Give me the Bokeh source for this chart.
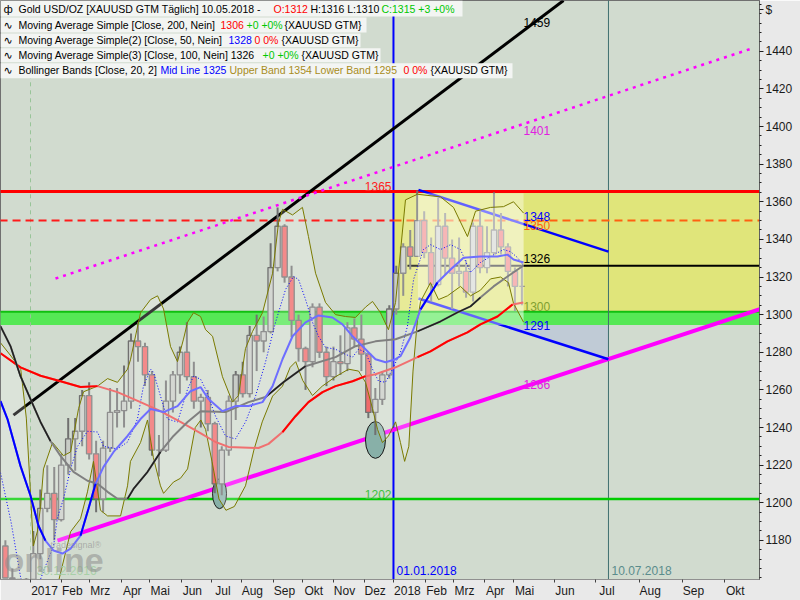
from bokeh.plotting import figure
from bokeh.models import Range1d, FixedTicker
from bokeh.core.properties import value
from bokeh.embed import file_html
from bokeh.resources import INLINE

# x = trading-day slot: 0 = 02.01.2017, 260 = 01.01.2018, 353 = 10.05.2018,
# after the last bar the axis runs on calendar days (10.07.2018 = 414)
X0, X1 = -21.5, 522.2
Y0, Y1 = 1159.2, 1467.0

month_labels = ["2017", "Feb", "Mrz", "Apr", "Mai", "Jun", "Jul", "Aug", "Sep", "Okt", "Nov", "Dez",
                "2018", "Feb", "Mrz", "Apr", "Mai", "Jun", "Jul", "Aug", "Sep", "Okt"]
month_slots = [0, 22, 42, 65, 85, 108, 130, 151, 174, 195, 217, 239,
               260, 283, 303, 325, 346, 375, 405, 436, 467, 497]
price_ticks = [1180, 1200, 1220, 1240, 1260, 1280, 1300, 1320, 1340, 1360, 1380, 1400, 1420, 1440]

# weekly candles, Monday slot
wk_slot = list(range(-20, 351, 5))
wk_open = [1177, 1160, 1133, 1133,
           1152, 1173, 1197, 1205, 1191, 1220, 1234, 1238, 1257, 1226, 1202, 1229, 1248,
           1249, 1254, 1286, 1283, 1268, 1228, 1228, 1254, 1268, 1280, 1267, 1254, 1256,
           1242, 1210, 1228, 1254, 1268, 1258, 1289, 1286, 1291, 1325, 1347, 1320, 1297,
           1282, 1275, 1304, 1280, 1267, 1275, 1274, 1293, 1287, 1279, 1248, 1255, 1268,
           1303, 1322, 1336, 1331, 1350, 1333, 1316, 1347, 1330, 1322, 1323, 1312, 1347,
           1325, 1333, 1345, 1336, 1323, 1315]
wk_high = [1180, 1165, 1140, 1160,
           1185, 1207, 1220, 1219, 1226, 1245, 1245, 1260, 1264, 1233, 1233, 1261, 1261,
           1273, 1290, 1296, 1285, 1270, 1236, 1265, 1270, 1283, 1296, 1275, 1258, 1260,
           1243, 1230, 1257, 1270, 1275, 1294, 1300, 1299, 1338, 1357, 1348, 1326, 1300,
           1283, 1306, 1306, 1283, 1283, 1289, 1296, 1298, 1300, 1280, 1261, 1270, 1305,
           1326, 1338, 1345, 1366, 1355, 1341, 1362, 1354, 1340, 1341, 1329, 1349, 1356,
           1347, 1365, 1354, 1338, 1325, 1326]
wk_low = [1160, 1123, 1125, 1130,
          1147, 1170, 1195, 1180, 1190, 1215, 1217, 1230, 1223, 1195, 1195, 1227, 1240,
          1240, 1250, 1275, 1262, 1225, 1214, 1227, 1248, 1258, 1265, 1250, 1240, 1238,
          1205, 1204, 1225, 1244, 1256, 1256, 1270, 1280, 1290, 1323, 1317, 1288, 1275,
          1260, 1272, 1277, 1262, 1265, 1268, 1270, 1283, 1270, 1245, 1236, 1252, 1266,
          1300, 1310, 1324, 1331, 1330, 1307, 1315, 1321, 1303, 1315, 1309, 1307, 1322,
          1322, 1332, 1332, 1315, 1302, 1305]
wk_close = [1160, 1133, 1133, 1152,
            1173, 1197, 1205, 1191, 1220, 1234, 1238, 1257, 1226, 1202, 1229, 1248, 1249,
            1254, 1286, 1283, 1268, 1228, 1228, 1254, 1268, 1280, 1267, 1254, 1256, 1242,
            1210, 1228, 1254, 1268, 1258, 1289, 1286, 1291, 1325, 1347, 1320, 1297, 1282,
            1275, 1304, 1280, 1267, 1275, 1274, 1293, 1287, 1279, 1248, 1255, 1268, 1303,
            1322, 1336, 1331, 1350, 1333, 1316, 1347, 1330, 1322, 1323, 1312, 1347, 1325,
            1333, 1345, 1336, 1323, 1315, 1315]

# moving averages
ma200_x = [-21.5, -7.2, 7.2, 21.5, 35.8, 48, 62.3, 78.8, 93.1, 107.4, 121.7, 132.5, 141.8, 163.3,
           170.5, 180.5, 189.8, 199.1, 209.2, 218.5, 230.7, 240, 247.1, 261.5, 277.2, 286.5,
           298.7, 313, 322.3, 334.5, 345.3, 353]
ma200 = [1279.5, 1272, 1267.5, 1264.6, 1261.5, 1262, 1258.8, 1253.5, 1248.7, 1243, 1237, 1232.3,
         1229.7, 1229.1, 1231.3, 1237.6, 1246, 1253.5, 1258.8, 1262, 1264.6, 1267.3, 1268.3, 1272,
         1277.4, 1280.5, 1285.8, 1290.6, 1294.8, 1299, 1305.4, 1306.5]
ma50_x = [-21.5, -16.5, -7.2, 0, 5.7, 10.7, 16.5, 22.9, 28.7, 35.8, 41.5, 46.6, 52.3, 59.5, 69.5,
          78.8, 86, 95.3, 105.3, 114.6, 121.8, 127.5, 137.5, 146.8, 156.2, 166.2, 173.4, 180.5,
          187.7, 197, 206.3, 216.3, 223.5, 230.7, 237.8, 247.1, 254.3, 261.5, 265, 272.2, 279.4,
          291.5, 300.9, 310.2, 322.3, 334.5, 341.7, 346, 353.2]
ma50 = [1254.0, 1244.5, 1219.6, 1203.7, 1187.8, 1179.9, 1174.6, 1173.0, 1175.6, 1182.5, 1196.8,
        1210.1, 1219.1, 1227.0, 1235.5, 1244.5, 1249.8, 1248.2, 1251.4, 1259.3, 1261.5, 1255.1,
        1248.7, 1251.4, 1251.4, 1253.5, 1262.0, 1276.3, 1288.5, 1295.9, 1299.6, 1298.5, 1294.8,
        1288.5, 1283.2, 1276.3, 1274.7, 1276.3, 1277.9, 1288.0, 1302.8, 1317.1, 1324.0, 1330.3,
        1330.9, 1330.9, 1331.9, 1329.3, 1327.7]
ma100_x = [-21.5, -14.3, -7.2, 0, 7.2, 14.3, 21.5, 30.8, 40.8, 48, 55.2, 62.3, 69.5, 73.8, 83.8,
           93.1, 102.4, 112.5, 121.8, 139.7, 156.2, 168.3, 181.2, 197, 218.5, 232.8, 247.1, 261.5,
           277.2, 293.7, 305.9, 315.2, 322.3, 331.7, 341.7, 353.2]
ma100 = [1293.8, 1283.2, 1267.3, 1255.1, 1242.9, 1232.8, 1224.9, 1216.4, 1211.7, 1210.1, 1205.8,
         1202.1, 1202.1, 1207.4, 1216.4, 1227.0, 1235.5, 1242.9, 1248.7, 1248.2, 1253.5, 1256.2,
         1264.1, 1272.6, 1277.4, 1283.2, 1285.8, 1286.9, 1291.1, 1296.4, 1301.2, 1304.4, 1309.1,
         1315.0, 1320.3, 1326.1]

# Bollinger bands (20, 2)
bb_mid_x = [-21.5, -14, -7, 0, 5, 10, 16.5, 19.3, 23.6, 28.7, 33.7, 40.8, 48, 52.3, 62.3, 69.5,
            76.6, 80.9, 86, 88.1, 93.1, 98.1, 105.3, 112.5, 116.8, 121.8, 125.4, 132.5, 139.7,
            146.8, 154, 161.2, 168.3, 175.5, 182.7, 188.4, 192, 197, 202, 206.3, 211.3, 218.5,
            225.6, 230.7, 235, 240, 245, 249.3, 254.3, 259.3, 265, 270, 274.4, 281.5, 286.5,
            293.7, 300.9, 308, 315.2, 322.3, 329.5, 338.8, 343.8, 348.9, 353.2]
bb_mid = [1216, 1190, 1160, 1148, 1155, 1165, 1177, 1192, 1202, 1218, 1230, 1238, 1237.6, 1230,
          1228.6, 1232.3, 1244.5, 1262, 1271, 1269.4, 1256.7, 1244.5, 1242.9, 1260.4, 1267.3,
          1265.7, 1260.4, 1246.1, 1235.5, 1233.9, 1242.9, 1256.7, 1274.7, 1295.9, 1313.4, 1320.3,
          1318.7, 1308.1, 1295.9, 1288.5, 1282.6, 1281.6, 1278.9, 1277.4, 1281.6, 1280, 1271,
          1264.6, 1264.1, 1271, 1280, 1293.8, 1318.7, 1334.6, 1337.2, 1334.6, 1337.2, 1334.6,
          1322.4, 1327.7, 1330.9, 1334.6, 1333.5, 1330.3, 1326]
bb_up_x = [-21.5, -14, -7, -3, 0, 2, 5, 7.2, 9.3, 15.8, 23.6, 28.7, 34.4, 38, 48, 55.2, 62.3,
           69.5, 71.6, 78.8, 86, 91, 95.3, 100.3, 105.3, 109.6, 112.5, 116.8, 121.8, 125.4, 130.4,
           137.5, 144.7, 149, 154, 159, 166.2, 173.4, 177.7, 180.5, 187.7, 194.8, 199.1, 204.2,
           211.3, 218.5, 225.6, 232.8, 240, 245, 250.7, 256.4, 261.5, 268.6, 277.2, 293.7, 303,
           313, 318.8, 329.5, 338.8, 346, 353.2]
bb_up = [1285, 1278, 1271, 1245, 1205, 1177, 1185, 1198, 1218, 1232, 1225, 1227, 1250, 1259, 1262,
         1266, 1264, 1271, 1276, 1301, 1308, 1310, 1303, 1283, 1275, 1287, 1296, 1301, 1299, 1292,
         1288.5, 1267, 1253.5, 1257, 1282, 1291, 1301, 1322, 1349, 1356, 1353, 1357, 1341.5, 1322,
         1306.5, 1300, 1299, 1298.5, 1304, 1307, 1301, 1292, 1306.5, 1361, 1364, 1362.6, 1357,
         1341.5, 1355, 1357, 1357.4, 1360, 1354]
bb_lo_x = [-21.5, -14, -7, 0, 7, 14, 20, 28.7, 35.8, 40.8, 45.1, 50.1, 55.2, 64.5, 69.5, 71.6,
           78.8, 83.8, 88, 93.1, 95.3, 102.4, 107.4, 112.5, 118, 122, 125.4, 130, 135, 140, 146,
           154, 160, 166, 173.4, 180.5, 186, 190, 195, 202, 209, 218.5, 227.8, 235, 240, 245,
           248.6, 252.1, 256.4, 261.5, 265, 268, 271, 274, 277, 279.4, 286.5, 292.3, 298.7, 308,
           315.2, 322.3, 329.5, 336.7, 342.4, 346, 353.2]
bb_lo = [1146, 1130, 1105, 1102, 1118, 1140, 1158, 1184.6, 1191.5, 1205.8, 1222, 1196, 1193, 1193,
         1209, 1222, 1232, 1244, 1224, 1209, 1205, 1211, 1213, 1218, 1240, 1244, 1239, 1222, 1202,
         1196, 1198, 1209, 1228, 1243, 1256.7, 1262, 1272, 1275, 1265, 1257, 1262, 1267, 1271,
         1270, 1264, 1250, 1239, 1232, 1235.5, 1243, 1232, 1222, 1230, 1270, 1296, 1307, 1317,
         1308, 1310, 1315, 1310, 1313, 1319, 1320, 1317, 1306, 1296]

# drawn levels and trend lines
lvl_high, lvl_dash, lvl_mid, lvl_low = 1365.5, 1350, 1326, 1202
zone_top, zone_bot = 1301.5, 1294.5
slot_2017, slot_2018, slot_last, slot_marker = 0, 260, 353.2, 414
lvl_mid_start = 270
tl_black_x, tl_black_y = [-12.2, 381.8], [1246.6, 1467.0]
tl_dot_x, tl_dot_y = [17.9, 517.2], [1319.2, 1441.6]
tl_mag_x, tl_mag_y = [19.3, 560.0], [1179.9, 1312.1]
wedge_up_x, wedge_up_y = [277.9, 414], [1366.3, 1333.5]
wedge_lo_x, wedge_lo_y = [277.9, 414], [1308.6, 1276.3]
box_x, box_y = [277.5, 353.2], [1294.5, 1364.5]
ell_x, ell_y = [135.4, 247.1], [1204.8, 1233.4]
ell_w, ell_h = [10, 14.3], [15.9, 19.6]


def sx(px):
    return X0 + px / 759 * (X1 - X0)


def sy(py):
    return Y1 - py / 581 * (Y1 - Y0)


def part(xs, ys, a, b):
    pts = [(x, y) for x, y in zip(xs, ys) if a <= x <= b]
    return [q[0] for q in pts], [q[1] for q in pts]


FONT = value("Liberation Sans")
FAR_L, FAR_R = X0 - 10, X1 + 60

p = figure(width=800, height=600, x_range=Range1d(X0, X1), y_range=Range1d(Y0, Y1),
           y_axis_location="right", output_backend="svg", toolbar_location=None,
           min_border_left=0, min_border_top=0, min_border_right=41, min_border_bottom=19)
p.background_fill_color = "#D1DBCF"
p.border_fill_color = "#E9E9E9"
p.outline_line_color = "#707070"
p.grid.visible = False

# zones
p.patch(wedge_up_x + wedge_lo_x[::-1], wedge_up_y + wedge_lo_y[::-1],
        fill_color="#A8B4E0", fill_alpha=0.4, line_color=None)
p.quad(left=[slot_2018], right=[FAR_R], bottom=[zone_top], top=[lvl_high],
       fill_color="#E0E57A", line_color=None)
p.quad(left=[FAR_L], right=[FAR_R], bottom=[zone_bot], top=[zone_top],
       fill_color="#55E855", line_color=None)
p.segment([FAR_L], [zone_top], [FAR_R], [zone_top], line_color="#10C010", line_width=2)

# vertical markers
p.segment([slot_2017], [Y0 - 10], [slot_2017], [Y1 + 10], line_color="#98C498",
          line_width=1, line_dash="4 4")
p.segment([slot_marker], [Y0 - 10], [slot_marker], [Y1 + 10], line_color="#3F6F6F", line_width=1)
p.segment([slot_2018], [Y0 - 10], [slot_2018], [Y1 + 10], line_color="#0000FF", line_width=2)

# horizontal levels
p.segment([FAR_L], [lvl_high], [FAR_R], [lvl_high], line_color="#FF0000", line_width=3)
p.segment([FAR_L], [lvl_dash], [slot_2018], [lvl_dash], line_color="#FF1A1A", line_width=2,
          line_dash="8 5")
p.segment([slot_2018], [lvl_dash], [FAR_R], [lvl_dash], line_color="#FF6010", line_width=2,
          line_dash="8 5")
p.segment([lvl_mid_start], [lvl_mid], [FAR_R], [lvl_mid], line_color="#000000", line_width=2)
p.segment([FAR_L], [lvl_low], [FAR_R], [lvl_low], line_color="#00CC00", line_width=2.5)

# trend lines
p.line(tl_black_x, tl_black_y, line_color="#000000", line_width=3)
p.line(tl_dot_x, tl_dot_y, line_color="#FF00FF", line_width=2.5, line_dash="3 5")
p.line(tl_mag_x, tl_mag_y, line_color="#FF00FF", line_width=4)
p.line(wedge_up_x, wedge_up_y, line_color="#0000FF", line_width=2.5)
p.line(wedge_lo_x, wedge_lo_y, line_color="#0000FF", line_width=2.5)

# lows marked
p.ellipse(x=ell_x, y=ell_y, width=ell_w, height=ell_h, fill_color="#88B0A8",
          line_color="#1A1A1A", line_width=1)

# candles
wk_x = [s + 2 for s in wk_slot]
p.segment(wk_x, wk_low, wk_x, wk_high, line_color="#707070", line_width=2)
up = [i for i in range(len(wk_x)) if wk_close[i] >= wk_open[i]]
dn = [i for i in range(len(wk_x)) if wk_close[i] < wk_open[i]]
p.vbar(x=[wk_x[i] for i in up], bottom=[wk_open[i] for i in up], top=[wk_close[i] for i in up],
       width=3.8, fill_color="#C8CCC6", line_color="#707070", line_width=1.3)
p.vbar(x=[wk_x[i] for i in dn], bottom=[wk_close[i] for i in dn], top=[wk_open[i] for i in dn],
       width=3.8, fill_color="#F06A6A", line_color="#707070", line_width=1.3)

# Bollinger fill and the range box of 2018
p.patch(bb_up_x + bb_lo_x[::-1], bb_up + bb_lo[::-1], fill_color="#FFFFFF", fill_alpha=0.22,
        line_color=None)
p.quad(left=[box_x[0]], right=[box_x[1]], bottom=[box_y[0]], top=[box_y[1]],
       fill_color="#FFFFFF", fill_alpha=0.38, line_color=None)

# indicator lines
p.line(bb_up_x, bb_up, line_color="#7A7A00", line_width=1)
p.line(bb_lo_x, bb_lo, line_color="#7A7A00", line_width=1)
p.line(bb_mid_x, bb_mid, line_color="#0000FF", line_width=1, line_dash="1 2")

p.line(ma200_x, ma200, line_color="#F07070", line_width=2)
for a, b in [(-22, 50), (178, 247), (277, 346)]:
    xs, ys = part(ma200_x, ma200, a, b)
    p.line(xs, ys, line_color="#FF0000", line_width=2)
p.line(ma100_x, ma100, line_color="#808080", line_width=2)
for a, b in [(-22, 16), (69, 94), (168, 198), (277, 323)]:
    xs, ys = part(ma100_x, ma100, a, b)
    p.line(xs, ys, line_color="#202020", line_width=1.6)
p.line(ma50_x, ma50, line_color="#6E6EFF", line_width=2)
for a, b in [(-22, 11), (35, 47), (226, 233), (277, 292)]:
    xs, ys = part(ma50_x, ma50, a, b)
    p.line(xs, ys, line_color="#0000FF", line_width=2)

# value labels
val_text = ["1459", "1401", "1350", "1348", "1326", "1300", "1291", "1266"]
val_color = ["#000000", "#E020E0", "#FF6010", "#0000FF", "#000000", "#80A030", "#0000FF", "#E020E0"]
val_py = [22, 130, 226, 217, 259, 307, 326, 385]
for t, c, py in zip(val_text, val_color, val_py):
    p.text(x=[sx(523)], y=[sy(py)], text=[t], text_color=c, text_font=FONT,
           text_font_size=value("12px"), text_baseline="middle", text_align="left")
p.text(x=[sx(391)], y=[sy(191)], text=["1365"], text_color="#FF2020", text_font=FONT,
       text_font_size=value("12px"), text_baseline="bottom", text_align="right")
p.text(x=[sx(391)], y=[sy(500)], text=["1202"], text_color="#40C040", text_font=FONT,
       text_font_size=value("12px"), text_baseline="bottom", text_align="right")
p.text(x=[sx(396), sx(611), sx(36)], y=[sy(572)] * 3, text=["01.01.2018", "10.07.2018", "30.12.2016"],
       text_color=["#0000FF", "#5A8C8C", "#A8D0A8"], text_font=FONT,
       text_font_size=value("12px"), text_baseline="middle", text_align="left")

# watermark
p.text(x=[sx(3)], y=[sy(580)], text=["online"], text_color="#8C8C8C", text_alpha=0.55,
       text_font=FONT, text_font_style="bold", text_font_size=value("34px"),
       text_baseline="bottom", text_align="left")
p.text(x=[sx(50)], y=[sy(546)], text=["tradesignal\u00ae"], text_color="#8C8C8C", text_alpha=0.6,
       text_font=FONT, text_font_size=value("9px"), text_baseline="middle", text_align="left")

# legend rows
row_boxes = [(462, 0, 16), (366, 17, 32), (360, 33, 47), (380, 48, 62), (512, 63, 78)]
p.quad(left=[sx(0)] * 5, right=[sx(r[0]) for r in row_boxes],
       top=[sy(r[1]) for r in row_boxes], bottom=[sy(r[2]) for r in row_boxes],
       fill_color="#F3F5F3", line_color=None)
BLK, RED, GRN, BLU, OLV = "#000000", "#FF0000", "#00C800", "#0000FF", "#A88C1C"
legend_rows = [
    (9, [("Gold USD/OZ [XAUUSD GTM  T\u00e4glich] 10.05.2018 -", BLK, 18), ("O:1312", RED, 273),
         ("H:1316 L:1310", BLK, 310), ("C:1315 +3 +0%", GRN, 381)]),
    (25, [("Moving Average Simple [Close, 200, Nein]", BLK, 18), ("1306", RED, 220),
          ("+0 +0%", GRN, 246), ("{XAUUSD GTM}", BLK, 284)]),
    (40, [("Moving Average Simple(2) [Close, 50, Nein]", BLK, 18), ("1328", BLU, 228),
          ("0 0%", RED, 254), ("{XAUUSD GTM}", BLK, 281)]),
    (55, [("Moving Average Simple(3) [Close, 100, Nein] 1326", BLK, 18), ("+0 +0%", GRN, 262),
          ("{XAUUSD GTM}", BLK, 301)]),
    (70, [("Bollinger Bands [Close, 20, 2]", BLK, 18), ("Mid Line 1325", BLU, 160),
          ("Upper Band 1354 Lower Band 1295", OLV, 229), ("0 0%", RED, 403),
          ("{XAUUSD GTM}", BLK, 430)]),
]
for py, runs in legend_rows:
    for t, c, px in runs:
        p.text(x=[sx(px)], y=[sy(py)], text=[t], text_color=c, text_font=FONT,
               text_font_size=value("10.5px"), text_baseline="middle", text_align="left")
p.text(x=[sx(3)] * 5, y=[sy(r[0]) for r in legend_rows],
       text=["\u0444", "\u223f", "\u223f", "\u223f", "\u223f"], text_color="#000000",
       text_font=value("DejaVu Sans"), text_font_size=value("11px"),
       text_baseline="middle", text_align="left")

# axes
lab_x = [round(s + (2 + 3.0 * len(t)) * (X1 - X0) / 759, 1) for s, t in zip(month_slots, month_labels)]
p.xaxis.ticker = FixedTicker(ticks=lab_x, minor_ticks=month_slots)
p.xaxis.major_label_overrides = {x: t for x, t in zip(lab_x, month_labels)}
p.xaxis.major_tick_out = 0
p.xaxis.major_tick_in = 0
p.xaxis.minor_tick_out = 3
p.xaxis.minor_tick_in = 0
p.xaxis.minor_tick_line_color = "#404040"
p.xaxis.major_label_standoff = 1
p.xaxis.axis_line_color = "#909090"

p.yaxis.ticker = FixedTicker(ticks=price_ticks + [1462], minor_ticks=list(range(1160, 1466, 5)))
p.yaxis.major_label_overrides = {1462: "$"}
p.yaxis.major_tick_out = 4
p.yaxis.major_tick_in = 0
p.yaxis.minor_tick_out = 2
p.yaxis.minor_tick_in = 0
p.yaxis.major_label_standoff = 2
p.yaxis.axis_line_color = "#606060"
p.yaxis.major_tick_line_color = "#202020"
p.yaxis.minor_tick_line_color = "#202020"

for ax in (p.xaxis, p.yaxis):
    ax.major_label_text_font = "Liberation Sans"
    ax.major_label_text_font_size = "12px"
    ax.major_label_text_color = "#1A1A1A"

open("out.html", "w").write(file_html(p, INLINE))
